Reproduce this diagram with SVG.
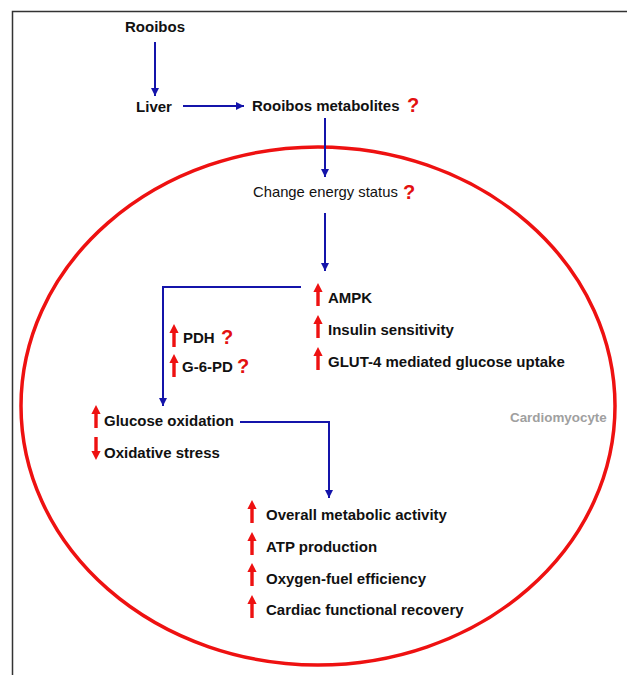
<svg xmlns="http://www.w3.org/2000/svg" xmlns:xlink="http://www.w3.org/1999/xlink" width="627" height="675" viewBox="0 0 627 675">
<style>
.t{font-family:"Liberation Sans",Arial,sans-serif;font-weight:bold;font-size:15px;fill:#111}
.r{font-family:"Liberation Sans",Arial,sans-serif;font-size:14.8px;fill:#111}
.q{font-family:"Liberation Sans",Arial,sans-serif;font-weight:bold;font-size:20px;fill:#e31010}
.g{font-family:"Liberation Sans",Arial,sans-serif;font-weight:bold;font-size:13.4px;fill:#a0a0a0}
.c{fill:none;stroke:#1414aa;stroke-width:2}
.ra{fill:#ee1111}
</style>
<defs>
<marker id="ah" viewBox="0 0 10 10" refX="10" refY="5" markerWidth="4.2" markerHeight="4.2" orient="auto" markerUnits="strokeWidth">
<path d="M0,0 L10,5 L0,10 Z" fill="#1414aa"/>
</marker>
<path id="up" d="M0,0 L4.6,9 L1.7,9 L1.7,23 L-1.7,23 L-1.7,9 L-4.6,9 Z"/>
<path id="dn" d="M0,23 L4.6,14 L1.7,14 L1.7,0 L-1.7,0 L-1.7,14 L-4.6,14 Z"/>
</defs>
<rect width="627" height="675" fill="#fff"/>
<path d="M12.5,675 V11.5 H627" fill="none" stroke="#333" stroke-width="1.5"/>
<ellipse id="cell" cx="318" cy="406" rx="297" ry="259" fill="none" stroke="#ee1111" stroke-width="3.5"/>

<g id="connectors">
<path class="c" d="M155,42 V96" marker-end="url(#ah)"/>
<path class="c" d="M183,106 H244" marker-end="url(#ah)"/>
<path class="c" d="M325,118 V177" marker-end="url(#ah)"/>
<path class="c" d="M325,213 V271" marker-end="url(#ah)"/>
<path class="c" d="M301,287 H163 V406" marker-end="url(#ah)"/>
<path class="c" d="M240,422 H329 V498" marker-end="url(#ah)"/>
</g>

<g id="rooibos"><text class="t" x="155" y="32" text-anchor="middle">Rooibos</text></g>
<g id="liver"><text class="t" x="154" y="112" text-anchor="middle">Liver</text></g>
<g id="metabolites"><text class="t" x="252" y="111">Rooibos metabolites</text><text class="q" x="407" y="112">?</text></g>
<g id="energy"><text class="r" x="253" y="197">Change energy status</text><text class="q" x="403" y="199">?</text></g>
<g id="ampk">
<use href="#up" class="ra" x="318" y="283"/><text class="t" x="328" y="303">AMPK</text>
<use href="#up" class="ra" x="318" y="315"/><text class="t" x="328" y="335">Insulin sensitivity</text>
<use href="#up" class="ra" x="318" y="347"/><text class="t" x="328" y="367">GLUT-4 mediated glucose uptake</text>
</g>
<g id="enzymes">
<use href="#up" class="ra" x="174" y="324"/><text class="t" x="183" y="343">PDH</text><text class="q" x="221" y="344">?</text>
<use href="#up" class="ra" x="174" y="354"/><text class="t" x="182" y="372">G-6-PD</text><text class="q" x="237" y="373">?</text>
</g>
<g id="glucose">
<use href="#up" class="ra" x="96" y="405"/><text class="t" x="104" y="426">Glucose oxidation</text>
<use href="#dn" class="ra" x="96" y="437"/><text class="t" x="104" y="458">Oxidative stress</text>
</g>
<g id="outcomes">
<use href="#up" class="ra" x="252" y="500"/><text class="t" x="266" y="520">Overall metabolic activity</text>
<use href="#up" class="ra" x="252" y="532"/><text class="t" x="266" y="552">ATP production</text>
<use href="#up" class="ra" x="252" y="563"/><text class="t" x="266" y="584">Oxygen-fuel efficiency</text>
<use href="#up" class="ra" x="252" y="595"/><text class="t" x="266" y="615">Cardiac functional recovery</text>
</g>
<g id="label"><text class="g" x="510" y="422">Cardiomyocyte</text></g>
</svg>
